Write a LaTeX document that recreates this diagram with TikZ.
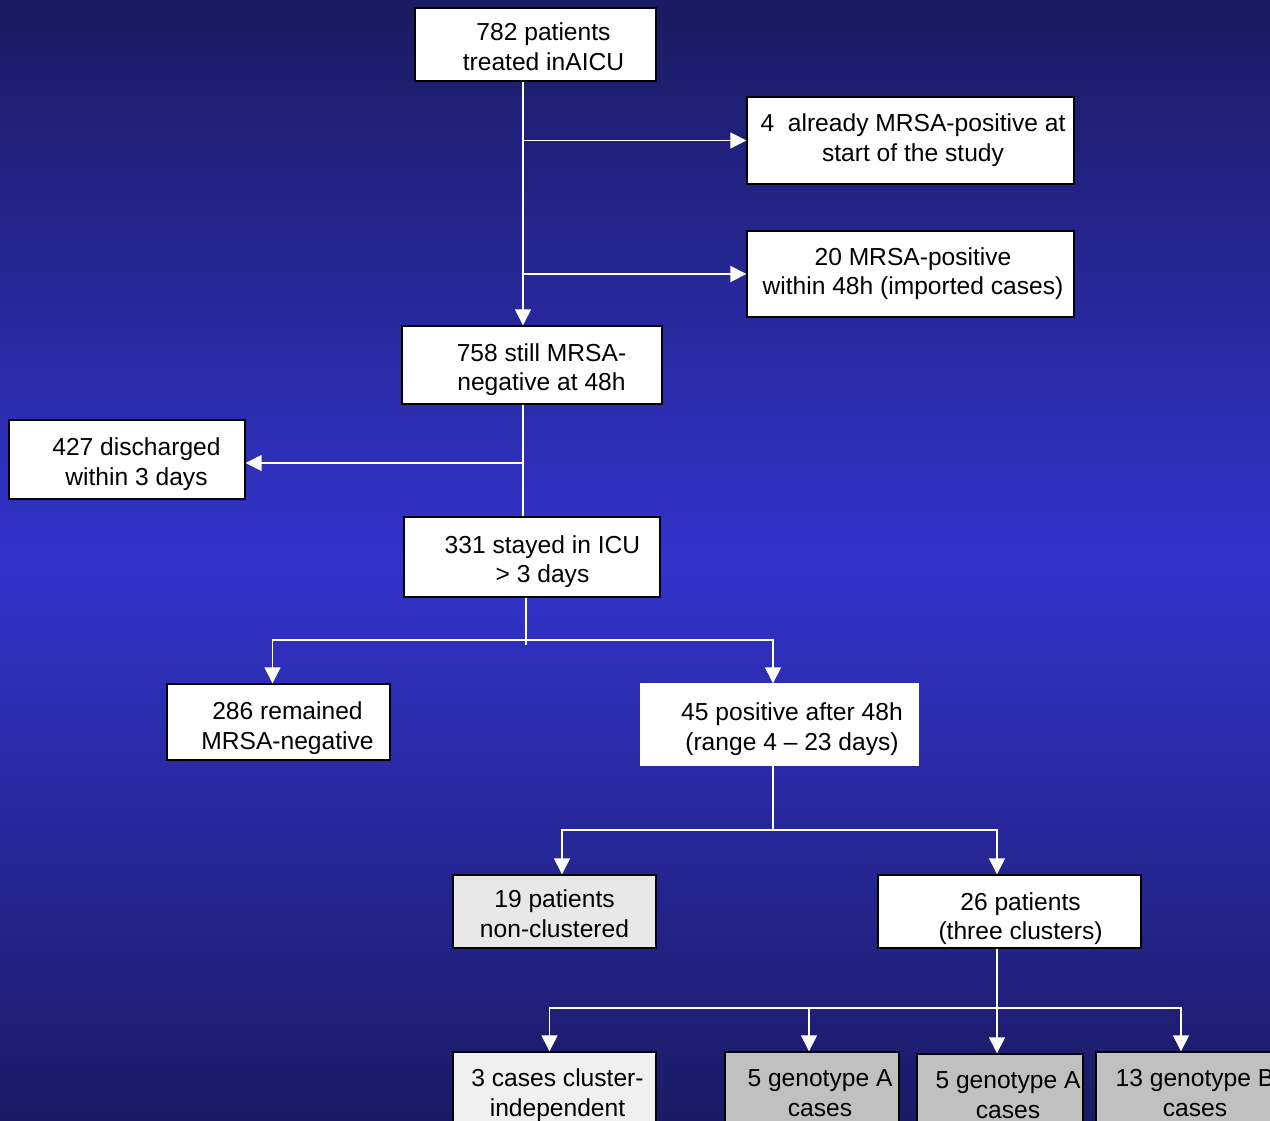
\documentclass[tikz,border=0pt]{standalone}
\usepackage{fontspec}
\setmainfont{Liberation Sans}
\usetikzlibrary{arrows.meta}
\definecolor{bgtop}{RGB}{26,26,96}
\definecolor{bgmid}{RGB}{51,51,204}
\definecolor{bgbot}{RGB}{26,26,100}
\definecolor{paleA}{RGB}{232,232,232}
\definecolor{paleB}{RGB}{240,240,240}
\definecolor{midgray}{RGB}{192,192,192}
% text of a box, moved right by #1/2 and down by -#2
\newcommand\boxtext[3]{\raisebox{#2}[\height][\depth]{\hspace{#1}\begin{tabular}{@{}c@{}}#3\end{tabular}}}
\tikzset{
    box/.style={draw=black, fill=white, line width=0.8pt, inner sep=0pt,
        font=\fontsize{14}{17}\selectfont},
    link/.style={draw=white, line width=0.8pt},
    arrow/.style={link, -{Triangle[width=0.32cm, length=0.32cm, fill=white]}}
}
\begin{document}
\begin{tikzpicture}[x=0.02cm, y=-0.02cm]
    \useasboundingbox (0,0) rectangle (1270,1121);
    \clip (0,0) rectangle (1270,1121);
    \shade[top color=bgtop, bottom color=bgbot, middle color=bgmid] (0,0) rectangle (1270,1121);
    % boxes
    \node[box, minimum width=4.82cm, minimum height=1.46cm] (b782) at (535.5,44.5) {\boxtext{0.32cm}{-0.1cm}{782 patients\\treated inAICU}};
    \node[box, minimum width=6.54cm, minimum height=1.74cm] (b4) at (910.5,140.5) {\boxtext{0.1cm}{0cm}{4\ \ already MRSA-positive at\\start of the study}};
    \node[box, minimum width=6.54cm, minimum height=1.72cm] (b20) at (910.5,274) {\boxtext{0.1cm}{0cm}{20 MRSA-positive\\within 48h (imported cases)}};
    \node[box, minimum width=5.2cm, minimum height=1.56cm] (b758) at (532,365) {\boxtext{0.38cm}{-0.1cm}{758 still MRSA-\\negative at 48h}};
    \node[box, minimum width=4.72cm, minimum height=1.58cm] (b427) at (127,459.5) {\boxtext{0.38cm}{-0.1cm}{427 discharged\\within 3 days}};
    \node[box, minimum width=5.12cm, minimum height=1.6cm] (b331) at (532,557) {\boxtext{0.42cm}{-0.1cm}{331 stayed in ICU\\> 3 days}};
    \node[box, minimum width=4.46cm, minimum height=1.52cm] (b286) at (278.5,722) {\boxtext{0.36cm}{-0.13cm}{286 remained\\MRSA-negative}};
    \node[box, draw=white, minimum width=5.54cm, minimum height=1.62cm] (b45) at (779.5,724.5) {\boxtext{0.5cm}{-0.1cm}{45 positive after 48h\\(range 4 -- 23 days)}};
    \node[box, fill=paleA, minimum width=4.06cm, minimum height=1.46cm] (b19) at (554.5,911.5) {\boxtext{0cm}{-0.1cm}{19 patients\\non-clustered}};
    \node[box, minimum width=5.26cm, minimum height=1.46cm] (b26) at (1009.5,911.5) {\boxtext{0.44cm}{-0.15cm}{26 patients\\(three clusters)}};
    \node[box, fill=paleB, minimum width=4.06cm, minimum height=1.6cm] (b3) at (554.5,1092) {\boxtext{0.12cm}{-0.07cm}{3 cases cluster-\\independent}};
    \node[box, fill=midgray, minimum width=3.48cm, minimum height=1.6cm] (b5a) at (812,1092) {\boxtext{0.32cm}{-0.07cm}{5 genotype A\\cases}};
    \node[box, fill=midgray, minimum width=3.32cm, minimum height=1.6cm] (b5b) at (1000,1094) {\boxtext{0.32cm}{-0.07cm}{5 genotype A\\cases}};
    \node[box, fill=midgray, minimum width=3.68cm, minimum height=1.6cm] (b13) at (1188,1092) {\boxtext{0.28cm}{-0.07cm}{13 genotype B\\cases}};
    % junctions
    \coordinate (t1) at (523,0);
    \coordinate (j427) at (523,463);
    \coordinate (f1) at (526,640);
    \coordinate (f2) at (773,830);
    \coordinate (f3) at (997,1008);
    % connectors
    \draw[arrow] (t1 |- b782.south) -- (t1 |- b758.north);
    \draw[arrow] (t1 |- b4.west) -- (b4.west);
    \draw[arrow] (t1 |- b20.west) -- (b20.west);
    \draw[link] (t1 |- b758.south) -- (t1 |- b331.north);
    \draw[arrow] (j427) -- (j427 -| b427.east);
    \draw[link] (f1 |- b331.south) -- ([yshift=-0.1cm]f1);
    \draw[arrow] (f1) -| ([xshift=-0.12cm]b286.north);
    \draw[arrow] (f1) -| (f2 |- b45.north);
    \draw[link] (f2 |- b45.south) -- (f2);
    \draw[arrow] (f2) -| ([xshift=0.15cm]b19.north);
    \draw[arrow] (f2) -| (f3 |- b26.north);
    \draw[link] (f3 |- b26.south) -- (f3);
    \foreach \n/\dx in {b3/-0.1, b5a/-0.06, b5b/-0.06, b13/-0.14} {
        \draw[arrow] (f3) -| ([xshift=\dx cm]\n.north);
    }
\end{tikzpicture}
\end{document}
